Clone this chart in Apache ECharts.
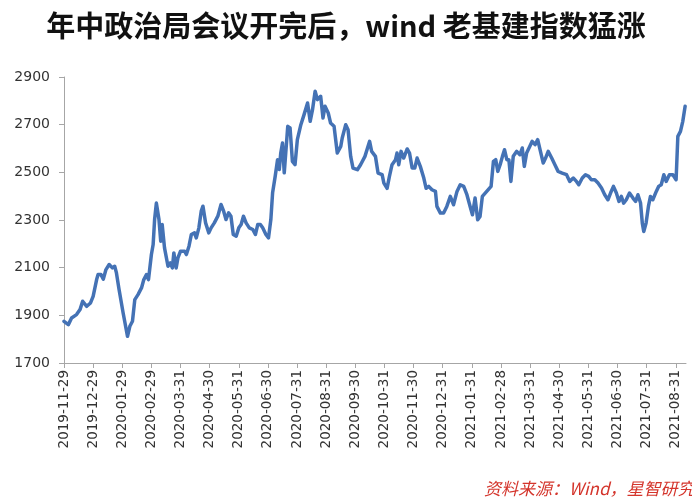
<!DOCTYPE html>
<html><head><meta charset="utf-8">
<script src="https://cdn.jsdelivr.net/npm/echarts@6/dist/echarts.min.js"></script>
<style>html,body{margin:0;padding:0;background:#fff}#c{width:692px;height:502px}</style>
</head><body><div id="c"></div>
<script>
const tickLabels = ['2019-11-29','2019-12-29','2020-01-29','2020-02-29','2020-03-31','2020-04-30','2020-05-31','2020-06-30','2020-07-31','2020-08-31','2020-09-30','2020-10-31','2020-11-30','2020-12-31','2021-01-31','2021-02-28','2021-03-31','2021-04-30','2021-05-31','2021-06-30','2021-07-31','2021-08-31'];
const yTicks = [1700,1900,2100,2300,2500,2700,2900];
// position in months since 2019-11-29 (tick index units)
const monthPos = [0,0.15,0.26,0.43,0.55,0.64,0.78,0.91,1.00,1.12,1.17,1.27,1.35,1.44,1.55,1.66,1.74,1.80,1.89,2.03,2.18,2.26,2.35,2.43,2.54,2.66,2.74,2.83,2.90,2.94,3.00,3.06,3.11,3.17,3.26,3.32,3.37,3.45,3.57,3.65,3.72,3.77,3.85,3.91,4.00,4.14,4.20,4.29,4.37,4.48,4.54,4.63,4.71,4.77,4.86,4.97,5.05,5.16,5.28,5.39,5.48,5.56,5.65,5.73,5.81,5.91,6.00,6.08,6.16,6.25,6.36,6.48,6.57,6.65,6.74,6.82,6.93,7.02,7.10,7.16,7.25,7.33,7.39,7.44,7.50,7.56,7.62,7.68,7.76,7.84,7.93,8.01,8.13,8.24,8.36,8.45,8.53,8.62,8.70,8.81,8.89,8.96,9.07,9.15,9.27,9.38,9.50,9.55,9.67,9.75,9.84,9.92,10.07,10.18,10.33,10.49,10.56,10.69,10.78,10.92,10.98,11.09,11.17,11.26,11.38,11.43,11.49,11.57,11.66,11.78,11.86,11.95,12.04,12.12,12.23,12.35,12.43,12.52,12.63,12.75,12.80,12.92,13.03,13.14,13.26,13.37,13.49,13.60,13.72,13.83,13.94,14.02,14.11,14.20,14.28,14.36,14.51,14.66,14.74,14.82,14.89,14.97,15.05,15.12,15.20,15.27,15.34,15.42,15.54,15.65,15.73,15.80,15.88,15.99,16.07,16.17,16.26,16.34,16.45,16.53,16.62,16.74,16.85,16.96,17.10,17.25,17.36,17.48,17.59,17.67,17.79,17.90,18.01,18.10,18.22,18.33,18.45,18.56,18.67,18.76,18.86,18.96,19.05,19.13,19.21,19.30,19.41,19.53,19.62,19.70,19.79,19.85,19.90,19.98,20.06,20.13,20.21,20.33,20.41,20.50,20.59,20.67,20.78,20.90,21.01,21.07,21.16,21.24,21.32];
const indexValues = [1875,1861,1889,1903,1924,1959,1938,1952,1980,2050,2071,2071,2052,2092,2113,2099,2106,2078,2008,1910,1812,1854,1875,1966,1987,2015,2050,2071,2050,2092,2155,2197,2302,2371,2302,2211,2281,2183,2106,2120,2099,2162,2099,2141,2169,2169,2155,2190,2239,2246,2225,2267,2337,2358,2288,2246,2267,2288,2316,2365,2337,2302,2330,2316,2239,2232,2267,2281,2316,2288,2267,2260,2239,2281,2281,2267,2239,2225,2302,2414,2484,2553,2512,2581,2623,2498,2595,2693,2686,2546,2532,2637,2700,2742,2791,2714,2763,2840,2805,2819,2728,2777,2749,2707,2693,2581,2609,2644,2700,2679,2567,2518,2511,2532,2567,2630,2588,2567,2497,2490,2455,2433,2483,2532,2553,2581,2532,2588,2560,2598,2581,2518,2518,2560,2525,2476,2433,2441,2427,2420,2357,2329,2329,2357,2399,2364,2420,2448,2441,2406,2357,2322,2392,2301,2315,2399,2420,2441,2546,2553,2504,2532,2567,2595,2553,2553,2462,2567,2588,2574,2602,2525,2581,2609,2630,2616,2637,2595,2539,2560,2588,2560,2532,2504,2497,2490,2462,2476,2462,2448,2476,2490,2483,2469,2469,2455,2434,2406,2385,2413,2441,2413,2378,2399,2371,2385,2413,2392,2378,2406,2371,2287,2252,2287,2357,2399,2385,2420,2441,2448,2490,2462,2490,2490,2469,2651,2672,2714,2777];
const titleText = '年中政治局会议开完后，wind 老基建指数猛涨';
const sourceText = '资料来源：Wind，星智研究';

const seriesData = monthPos.map((m, i) => [m, indexValues[i]]);
const tickIdx = tickLabels.map((_, i) => i);

const chart = echarts.init(document.getElementById('c'), null, {renderer: 'canvas'});
chart.setOption({
  animation: false,
  backgroundColor: '#ffffff',
  title: {
    text: titleText,
    left: 'center',
    top: 6,
    textStyle: {fontFamily: '"Noto Sans CJK SC"', fontSize: 29, fontWeight: 'bold', color: '#111'}
  },
  graphic: [{
    type: 'text',
    left: 484,
    top: 480,
    style: {text: sourceText, fill: '#d4352c', font: 'italic 17px "Noto Sans CJK SC"'}
  }],
  grid: {left: 64, right: 6, top: 77, bottom: 139, containLabel: false},
  xAxis: {
    type: 'value',
    min: 0,
    max: 21.35,
    axisLine: {show: true, lineStyle: {color: '#a6a6a6', width: 1}},
    axisTick: {show: true, length: 5, lineStyle: {color: '#a6a6a6'}, customValues: tickIdx},
    axisLabel: {
      rotate: 90,
      margin: 7,
      customValues: tickIdx,
      formatter: v => tickLabels[Math.round(v)] || '',
      fontFamily: '"DejaVu Sans"',
      fontSize: 13.5,
      color: '#333'
    },
    splitLine: {show: false}
  },
  yAxis: {
    type: 'value',
    min: 1700,
    max: 2900,
    axisLine: {show: true, lineStyle: {color: '#a6a6a6', width: 1}},
    axisTick: {show: true, length: 5, lineStyle: {color: '#a6a6a6'}, customValues: yTicks},
    axisLabel: {
      customValues: yTicks,
      formatter: v => String(v),
      margin: 14,
      fontFamily: '"DejaVu Sans"',
      fontSize: 14,
      color: '#333'
    },
    splitLine: {show: false}
  },
  series: [{
    type: 'line',
    data: seriesData,
    showSymbol: false,
    symbol: 'none',
    lineStyle: {color: '#4472b5', width: 3.5, join: 'round', cap: 'round'},
    smooth: false
  }]
});
</script>
</body></html>
